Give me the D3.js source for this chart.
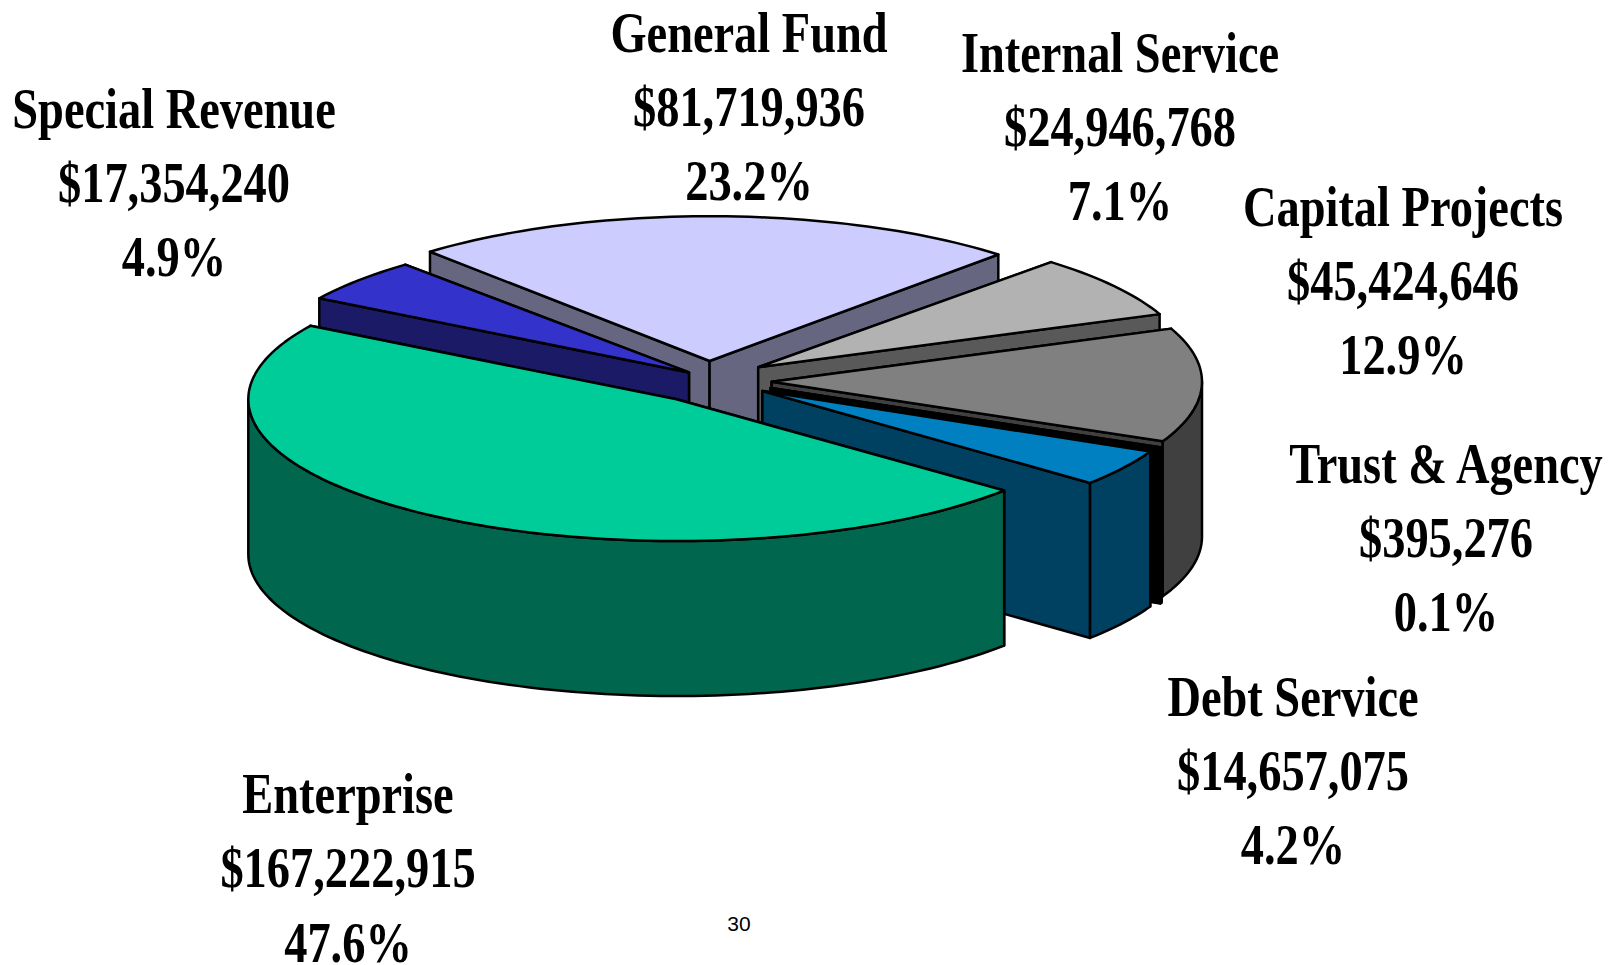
<!DOCTYPE html>
<html>
<head>
<meta charset="utf-8">
<style>html,body{margin:0;padding:0;background:#fff;overflow:hidden}svg{display:block}</style>
<script src="https://cdnjs.cloudflare.com/ajax/libs/d3/7.9.0/d3.min.js"></script>
</head>
<body>
<script>
// Data, clockwise from General Fund
const categories = ["General Fund","Internal Service","Capital Projects","Trust & Agency","Debt Service","Enterprise","Special Revenue"];
const amounts = [81719936,24946768,45424646,395276,14657075,167222915,17354240];
const percents = ["23.2%","7.1%","12.9%","0.1%","4.2%","47.6%","4.9%"];
const pageNumber = "30";

// Styles and layout
const topColors  = ["#CCCCFF","#B2B2B2","#808080","#000000","#0080C0","#00CC99","#3333CC"];
const wallColors = ["#666680","#595959","#404040","#000000","#004060","#00664D","#1A1A66"];
const apexes = [[709.6,361],[758.2,367.2],[771.7,381.7],[770.6,388],[762.4,391],[676.5,399.3],[689,372.4]];
const radiiX = [426.2,432.4,430.3,430.3,428.2,428.2,432.4];
const radiiY = [144.8,142.8,142.8,142.8,142.8,141.7,142.8];
const labelPos = [[749,51.5],[1120,71.5],[1403,225.5],[1446,482.5],[1293,715.5],[348,813],[174,127.5]];
const drawOrder = [0,6,1,2,3,4,5];
const W = 1622, H = 965, DEPTH = 155;
const FS = 58, LINE = 74.3, SQUEEZE = 0.8;

const svg = d3.select("body").append("svg").attr("width",W).attr("height",H);
const start = -41 * Math.PI/180;
const arcs = d3.pie().sort(null).startAngle(start).endAngle(start+2*Math.PI)(amounts);

const line = d3.line().x(d=>d[0]).y(d=>d[1]);

function rim(i,a,b,dz){
  const [cx,cy] = apexes[i];
  const sx = d3.scaleLinear().domain([-1,1]).range([cx-radiiX[i],cx+radiiX[i]]);
  const sy = d3.scaleLinear().domain([-1,1]).range([cy-radiiY[i],cy+radiiY[i]]);
  const n = Math.max(1,Math.ceil((b-a)/(1.5*Math.PI/180)));
  return d3.range(n+1).map(k=>{
    const t = a+(b-a)*k/n;
    return [sx(Math.sin(t)), sy(-Math.cos(t))+dz];
  });
}
function style(sel,fill){
  return sel.attr("fill",fill).attr("stroke","#000").attr("stroke-width",2.5).attr("stroke-linejoin","round");
}
drawOrder.forEach(i=>{
  const d = arcs[i], [cx,cy] = apexes[i], g = svg.append("g");
  // cut faces, the upper one first so that the lower one covers it
  const faces = [d.startAngle,d.endAngle].map(t=>rim(i,t,t,0)[0]).sort((p,q)=>p[1]-q[1]);
  faces.forEach(p=>{
    style(g.append("path").attr("d",line([[cx,cy],p,[p[0],p[1]+DEPTH],[cx,cy+DEPTH]])+"Z"),wallColors[i]);
  });
  // outer wall: the part of the rim facing the viewer
  const a = Math.max(d.startAngle,Math.PI/2), b = Math.min(d.endAngle,3*Math.PI/2);
  if(b>a){
    const up = rim(i,a,b,0), down = rim(i,a,b,DEPTH).reverse();
    style(g.append("path").attr("d",line(up.concat(down))+"Z"),wallColors[i]);
  }
  // top face
  style(g.append("path").attr("d",line([[cx,cy]].concat(rim(i,d.startAngle,d.endAngle,0)))+"Z"),topColors[i]);
});

// Labels
const fmt = d3.format("$,");
categories.forEach((c,i)=>{
  const [x,y] = labelPos[i];
  [c,fmt(amounts[i]),percents[i]].forEach((s,k)=>{
    svg.append("text").text(s)
      .attr("transform",`translate(${x},${y+k*LINE}) scale(${SQUEEZE},1)`)
      .attr("text-anchor","middle")
      .attr("font-family","'Liberation Serif',serif")
      .attr("font-weight","bold")
      .attr("font-size",FS)
      .attr("fill","#000");
  });
});
svg.append("text").text(pageNumber).attr("x",739).attr("y",931)
  .attr("text-anchor","middle").attr("font-family","'Liberation Sans',sans-serif")
  .attr("font-size",21).attr("fill","#000");
</script>
</body>
</html>
